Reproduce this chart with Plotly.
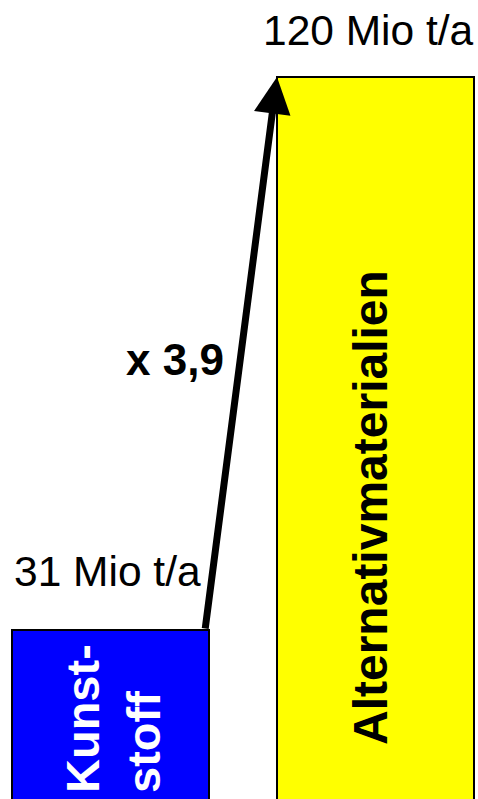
import plotly.graph_objects as go

categories = ["Kunststoff", "Alternativmaterialien"]
values = [31, 120]
colors = ["#0000FF", "#FFFF00"]
value_labels = ["31 Mio t/a", "120 Mio t/a"]
bar_labels = ["Kunst-<br>stoff", "Alternativmaterialien"]
factor_label = "x 3,9"

FONT = "Liberation Sans, Arial, Helvetica, sans-serif"
BARGAP = 0.2566
half = (1 - BARGAP) / 2

fig = go.Figure()
fig.add_trace(go.Bar(
    x=[0, 1], y=values,
    marker=dict(color=colors, line=dict(color="black", width=2)),
    hoverinfo="skip",
))

ann = []
# arrow from top of first bar to top of second bar
ann.append(dict(
    x=1 - half, y=values[1], xref="x", yref="y",
    ax=0 + half - 0.015, ay=values[0], axref="x", ayref="y",
    text="", showarrow=True, arrowhead=2, arrowsize=1.05, arrowwidth=7,
    arrowcolor="black", standoff=0,
))
# value labels
ann.append(dict(x=0, y=values[0], xref="x", yref="y", text=value_labels[0],
                showarrow=False, yanchor="middle", xshift=-3, yshift=58,
                font=dict(family=FONT, size=42.5, color="black")))
ann.append(dict(x=1, y=values[1], xref="x", yref="y", text=value_labels[1],
                showarrow=False, yanchor="middle", xshift=-7, yshift=46,
                font=dict(family=FONT, size=42.5, color="black")))
# factor label
ann.append(dict(x=0.5, y=(values[0] + values[1]) / 2, xref="x", yref="y",
                text="<b>" + factor_label + "</b>",
                showarrow=False, xanchor="right", yanchor="middle", xshift=-17, yshift=-6,
                font=dict(family=FONT, size=44, color="black")))
# bar labels (rotated)
ann.append(dict(x=0, y=values[0], xref="x", yref="y", text="<b>" + bar_labels[0] + "</b>",
                showarrow=False, textangle=-90, align="left",
                yanchor="bottom", yshift=-165, xshift=3,
                font=dict(family=FONT, size=47, color="white")))
ann.append(dict(x=1, y=values[0], xref="x", yref="y", text="<b>" + bar_labels[1] + "</b>",
                showarrow=False, textangle=-90,
                yanchor="bottom", yshift=-117, xshift=-5,
                font=dict(family=FONT, size=48, color="black")))

fig.update_layout(
    width=478, height=799,
    margin=dict(l=0, r=0, t=0, b=0),
    paper_bgcolor="white", plot_bgcolor="white",
    bargap=BARGAP, showlegend=False,
    xaxis=dict(range=[-0.417, 1.3868], visible=False, fixedrange=True),
    yaxis=dict(range=[3.8, 132.39], visible=False, fixedrange=True),
    annotations=ann,
)

fig.write_html(
    "out.html",
    config={"displayModeBar": False},
    post_script="document.body.style.margin='0';document.body.style.overflow='hidden';",
)
